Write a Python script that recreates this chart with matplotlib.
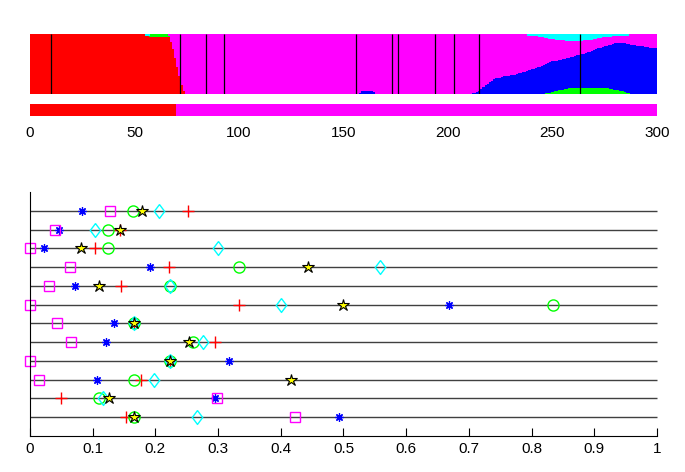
import numpy as np
import matplotlib
matplotlib.use("Agg")
import matplotlib.pyplot as plt

plt.rcParams['font.family'] = ['Liberation Sans', 'DejaVu Sans']

# ==========================================
# 1. DATA - top panel (300 individuals, 5 clusters)
# ==========================================
N_IND = 300

# (start individual, values) segments
RED_SEGMENTS = [
    (0, [1.0] * 55),
    (55, [0.98] * 2),
    (57, [0.97] * 9),
    (66, [0.96, 0.88, 0.76, 0.62, 0.46, 0.31, 0.17, 0.06]),
]
GREEN_SEGMENTS = [
    (57, [0.03] * 10),
    (74, [0.02] * 4),
    (244, [0.01, 0.02, 0.03, 0.04, 0.04, 0.05, 0.06, 0.07, 0.08, 0.09,
           0.09, 0.10, 0.10, 0.11, 0.11, 0.11, 0.12, 0.12, 0.12, 0.12,
           0.12, 0.12, 0.12, 0.12, 0.12, 0.12, 0.12, 0.12, 0.11, 0.11,
           0.11, 0.11, 0.11, 0.10, 0.10, 0.09, 0.09, 0.08, 0.07, 0.06,
           0.05, 0.04, 0.03, 0.02, 0.01]),
]
CYAN_SEGMENTS = [
    (55, [0.02] * 2),
    (238, [0.01, 0.01, 0.01, 0.02, 0.02, 0.03, 0.03, 0.04, 0.05, 0.05,
           0.06, 0.07, 0.07, 0.08, 0.08, 0.09, 0.09, 0.09, 0.10, 0.10,
           0.10, 0.10, 0.10, 0.10, 0.10, 0.10, 0.09, 0.09, 0.09, 0.08,
           0.08, 0.07, 0.06, 0.05, 0.05, 0.04, 0.04, 0.03, 0.03, 0.03,
           0.02, 0.02, 0.02, 0.02, 0.01, 0.01, 0.01, 0.01]),
]
BLUE_SEGMENTS = [
    (78, [0.02] * 7),
    (156, [0.02, 0.04, 0.06, 0.07, 0.07, 0.07, 0.07, 0.06, 0.05, 0.02]),
]
# top edge of the blue band (green + blue) for individuals 208..299
BLUE_TOP_START = 208
BLUE_TOP = [0.00, 0.01, 0.02, 0.03, 0.04, 0.05, 0.07, 0.10, 0.13, 0.16,
            0.19, 0.22, 0.24, 0.26, 0.28, 0.29, 0.29, 0.30, 0.31, 0.31,
            0.32, 0.33, 0.34, 0.34, 0.35, 0.36, 0.37, 0.38, 0.39, 0.40,
            0.41, 0.43, 0.44, 0.45, 0.46, 0.47, 0.49, 0.50, 0.52, 0.53,
            0.55, 0.56, 0.57, 0.57, 0.58, 0.59, 0.60, 0.60, 0.61, 0.62,
            0.63, 0.64, 0.65, 0.66, 0.67, 0.68, 0.69, 0.70, 0.71, 0.72,
            0.74, 0.75, 0.76, 0.78, 0.79, 0.80, 0.81, 0.82, 0.83, 0.84,
            0.85, 0.86, 0.87, 0.87, 0.87, 0.86, 0.86, 0.85, 0.85, 0.84,
            0.83, 0.83, 0.82, 0.82, 0.81, 0.81, 0.80, 0.80, 0.79, 0.79,
            0.78, 0.78]

POP_BOUNDS = [10, 72, 84, 93, 156, 173, 176, 194, 203, 215, 263]

ASSIGN_COUNTS = [70, 230]
ASSIGN_COLORS = ['#ff0000', '#ff00ff']

# ==========================================
# 2. DATA - bottom panel (12 rows, top row first)
# ==========================================
ROWS = list(range(12, 0, -1))
red_plus = [0.252, 0.144, 0.103, 0.222, 0.145, 0.334, 0.166, 0.295, 0.223, 0.177, 0.049, 0.153]
blue_ast = [0.083, 0.047, 0.022, 0.191, 0.071, 0.669, 0.134, 0.121, 0.318, 0.107, 0.295, 0.493]
mag_sq = [0.127, 0.040, 0.0, 0.064, 0.031, 0.0, 0.043, 0.065, 0.0, 0.015, 0.299, 0.422]
green_o = [0.165, 0.124, 0.124, 0.334, 0.223, 0.834, 0.166, 0.260, 0.223, 0.166, 0.110, 0.166]
cyan_d = [0.205, 0.103, 0.300, 0.558, 0.223, 0.400, 0.166, 0.276, 0.223, 0.198, 0.117, 0.267]
yellow_star = [0.178, 0.144, 0.082, 0.444, 0.110, 0.500, 0.166, 0.254, 0.223, 0.416, 0.126, 0.166]


def build(segments):
    arr = np.zeros(N_IND)
    for start, vals in segments:
        arr[start:start + len(vals)] = vals
    return arr


red = build(RED_SEGMENTS)
green = build(GREEN_SEGMENTS)
cyan = build(CYAN_SEGMENTS)
blue = build(BLUE_SEGMENTS)
top = np.array(BLUE_TOP)
blue[BLUE_TOP_START:BLUE_TOP_START + len(top)] = top - green[BLUE_TOP_START:BLUE_TOP_START + len(top)]
blue = np.clip(blue, 0, None)
magenta = 1.0 - red - green - blue - cyan

# ==========================================
# 3. FIGURE
# ==========================================
fig = plt.figure(figsize=(6.85, 4.72), dpi=100)
W, H = 685.0, 472.0

ax_bar = fig.add_axes([30 / W, 1 - 94 / H, 627 / W, 60 / H])
x = np.arange(N_IND)
bottom = np.zeros(N_IND)
for vals, col in [(red, '#ff0000'), (green, '#00ff00'), (blue, '#0000ff'),
                  (magenta, '#ff00ff'), (cyan, '#00ffff')]:
    keep = vals > 1e-6
    ax_bar.bar(x[keep], vals[keep], width=1.0, bottom=bottom[keep], align='edge',
               color=col, edgecolor=col, linewidth=0.4, antialiased=False)
    bottom += vals
ax_bar.vlines(POP_BOUNDS, 0, 1, colors='black', linewidth=0.9)
ax_bar.set_xlim(0, N_IND)
ax_bar.set_ylim(0, 1)
ax_bar.axis('off')

# thin assignment bar
ax_as = fig.add_axes([30 / W, 1 - 116 / H, 627 / W, 12 / H])
starts = np.concatenate([[0], np.cumsum(ASSIGN_COUNTS)[:-1]])
ax_as.bar(starts, 1.0, width=ASSIGN_COUNTS, align='edge', color=ASSIGN_COLORS, linewidth=0)
ax_as.set_xlim(0, N_IND)
ax_as.set_ylim(0, 1)
ax_as.set_yticks([])
ax_as.set_xticks(range(0, 301, 50))
ax_as.tick_params(axis='x', length=0, labelsize=11, pad=7)
for s in ax_as.spines.values():
    s.set_visible(False)

# bottom panel
ax = fig.add_axes([30 / W, 1 - 436 / H, 627 / W, 244 / H])
ax.hlines(ROWS, 0, 1, colors='0.25', linewidth=1.0)
diamond = [(0, 1), (0.75, 0), (0, -1), (-0.75, 0), (0, 1)]
ax.plot(red_plus, ROWS, linestyle='none', marker='+', ms=9, mew=1.0, color='#ff0000')
ax.plot(blue_ast, ROWS, linestyle='none', marker=(8, 2, 0), ms=6, mew=0.9, color='#0000ff')
ax.plot(mag_sq, ROWS, linestyle='none', marker='s', ms=7.5, mew=1.0, mfc='none', mec='#ff00ff')
ax.plot(green_o, ROWS, linestyle='none', marker='o', ms=8, mew=1.0, mfc='none', mec='#00ff00')
ax.plot(cyan_d, ROWS, linestyle='none', marker=diamond, ms=10, mew=1.0, mfc='none', mec='#00ffff')
ax.plot(yellow_star, ROWS, linestyle='none', marker='*', ms=9, mew=0.8, mfc='#ffff00', mec='black')
ax.set_xlim(0, 1)
ax.set_ylim(0, 13)
ax.set_yticks([])
ax.set_xticks(np.arange(0, 1.01, 0.1))
ax.set_xticklabels(['0', '0.1', '0.2', '0.3', '0.4', '0.5', '0.6', '0.7', '0.8', '0.9', '1'])
ax.tick_params(axis='x', direction='in', length=6, labelsize=11, pad=4)
ax.spines['top'].set_visible(False)
ax.spines['right'].set_visible(False)
for m in ax.get_children():
    if hasattr(m, 'set_clip_on'):
        m.set_clip_on(False)

fig.savefig('out.png', dpi=100)
